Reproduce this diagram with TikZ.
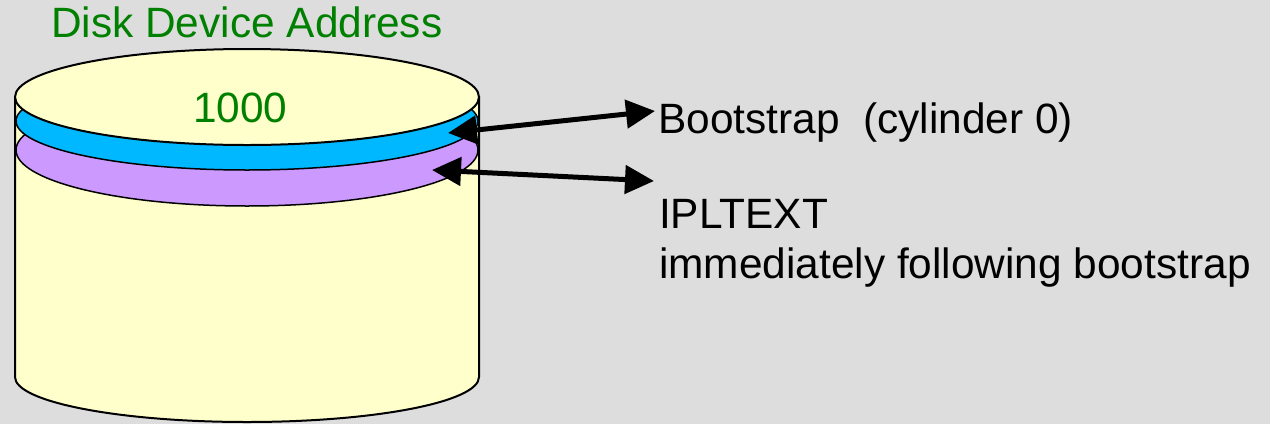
\documentclass[tikz,border=0pt]{standalone}
\usepackage{fontspec}
\setmainfont{Liberation Sans}
\usetikzlibrary{arrows.meta}
\definecolor{bgc}{HTML}{DDDDDD}
\definecolor{diskc}{HTML}{FFFFCC}
\definecolor{bluec}{HTML}{00B8FF}
\definecolor{purplec}{HTML}{CC99FF}
\definecolor{greenc}{HTML}{008000}
\tikzset{
  outline/.style={draw=black,line width=2pt},
  lbl/.style={inner sep=0pt,font=\fontsize{42.4}{50}\selectfont},
  dblarrow/.style={line width=5pt,{Triangle[length=29pt,width=28pt]}-{Triangle[length=29pt,width=28pt]},shorten <=0pt,shorten >=0pt}
}
\begin{document}
\begin{tikzpicture}[x=1pt,y=-1pt]
\fill[bgc] (0,0) rectangle (1270,424);
\useasboundingbox (0,0) rectangle (1270,424);
% body
\path[fill=diskc,outline] (15,97) -- (15,377) arc[start angle=180,end angle=360,x radius=232,y radius=-45] -- (479,97) -- cycle;
% bands
\path[fill=purplec,outline,line width=1.5pt] (247,150) ellipse[x radius=231,y radius=56];
\path[fill=bluec,outline,line width=1.5pt] (247,121) ellipse[x radius=231,y radius=49];
\path[fill=diskc,outline] (247,97) ellipse[x radius=232,y radius=48];
% texts
\node[lbl,text=greenc,anchor=base west] (title) at (51,37) {Disk Device Address};
\node[lbl,text=greenc,anchor=base west] (addr) at (193,122) {1000};
\node[lbl,anchor=base west] (boot) at (658,133) {Bootstrap\ \ (cylinder 0)};
\node[lbl,anchor=base west] (ipl) at (659,228) {IPLTEXT};
\node[lbl,anchor=base west] (follow) at (659,278) {immediately following bootstrap};
% arrow end points
\coordinate (bsdisk) at (448,133);
\coordinate (bslbl) at (655,111);
\coordinate (ipldisk) at (432,170);
\coordinate (ipllbl) at (654,181);
\draw[dblarrow] (bsdisk) -- (bslbl);
\draw[dblarrow] (ipldisk) -- (ipllbl);
\end{tikzpicture}
\end{document}
